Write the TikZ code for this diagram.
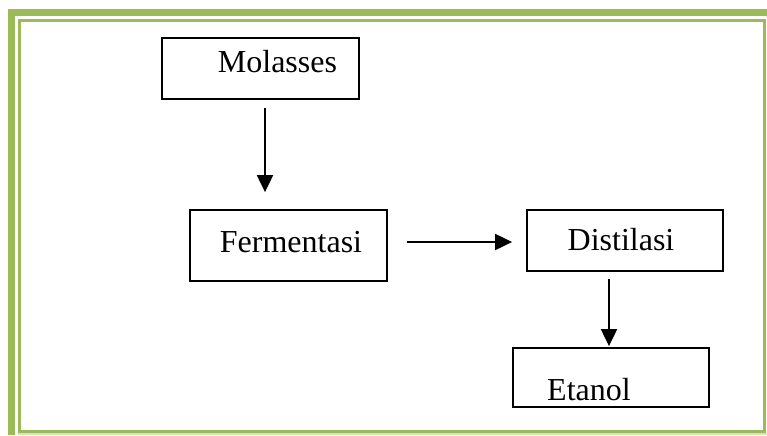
\documentclass[tikz,border=0pt]{standalone}
\usepackage{fontspec}
\setmainfont{Liberation Serif}
\usetikzlibrary{arrows.meta, positioning}
\definecolor{bordergreen}{HTML}{9BBB59}
\definecolor{borderlight}{HTML}{D7E4BD}
\tikzstyle{process} = [rectangle, draw=black, line width=0.9pt]
\tikzstyle{arrow} = [line width=1pt, -{Triangle[width=8pt,length=8.5pt]}]
\tikzstyle{frame} = [draw=bordergreen]

\begin{document}
\begin{tikzpicture}[x=0.5pt, y=-0.5pt, font=\fontsize{16}{19}\selectfont]
\useasboundingbox (0,0) rectangle (767,435);

% page border
\draw [frame, line width=3.5pt] (767,12.5) -| (11.5,435);
\draw [frame, line width=1.5pt] (19.5,20.5) rectangle (764.5,431);
\draw [borderlight, line width=1pt] (18,434) -- (767,434);

\node (molasses) [process, minimum width=98.5pt, minimum height=30.5pt,
  label={[xshift=8.5pt, yshift=3.5pt]center:Molasses}] at (260.5,68.5) {};
\node (ferment) [process, minimum width=98.5pt, minimum height=35.5pt,
  label={[xshift=1.25pt, yshift=1.5pt]center:Fermentasi}] at (288.5,245.5) {};
\node (distil) [process, minimum width=98pt, minimum height=30.5pt,
  label={[xshift=-2pt, yshift=0.5pt]center:Distilasi}] at (625,240.5) {};
\node (etanol) [process, minimum width=98pt, minimum height=29.5pt,
  label={[xshift=-11pt, yshift=-6.25pt]center:Etanol}] at (611,377.5) {};

\draw [arrow, shorten <=4pt, shorten >=8.5pt] ([xshift=2.25pt]molasses.south) -- ([xshift=2.25pt]molasses.south |- ferment.north);
\draw [arrow, shorten <=9.5pt, shorten >=7pt] ([yshift=1.75pt]ferment.east) -- ([yshift=1.75pt]ferment.east -| distil.west);
\draw [arrow, shorten <=3.5pt, shorten >=0.5pt] ([xshift=-1pt]etanol.north |- distil.south) -- ([xshift=-1pt]etanol.north);
\end{tikzpicture}
\end{document}
